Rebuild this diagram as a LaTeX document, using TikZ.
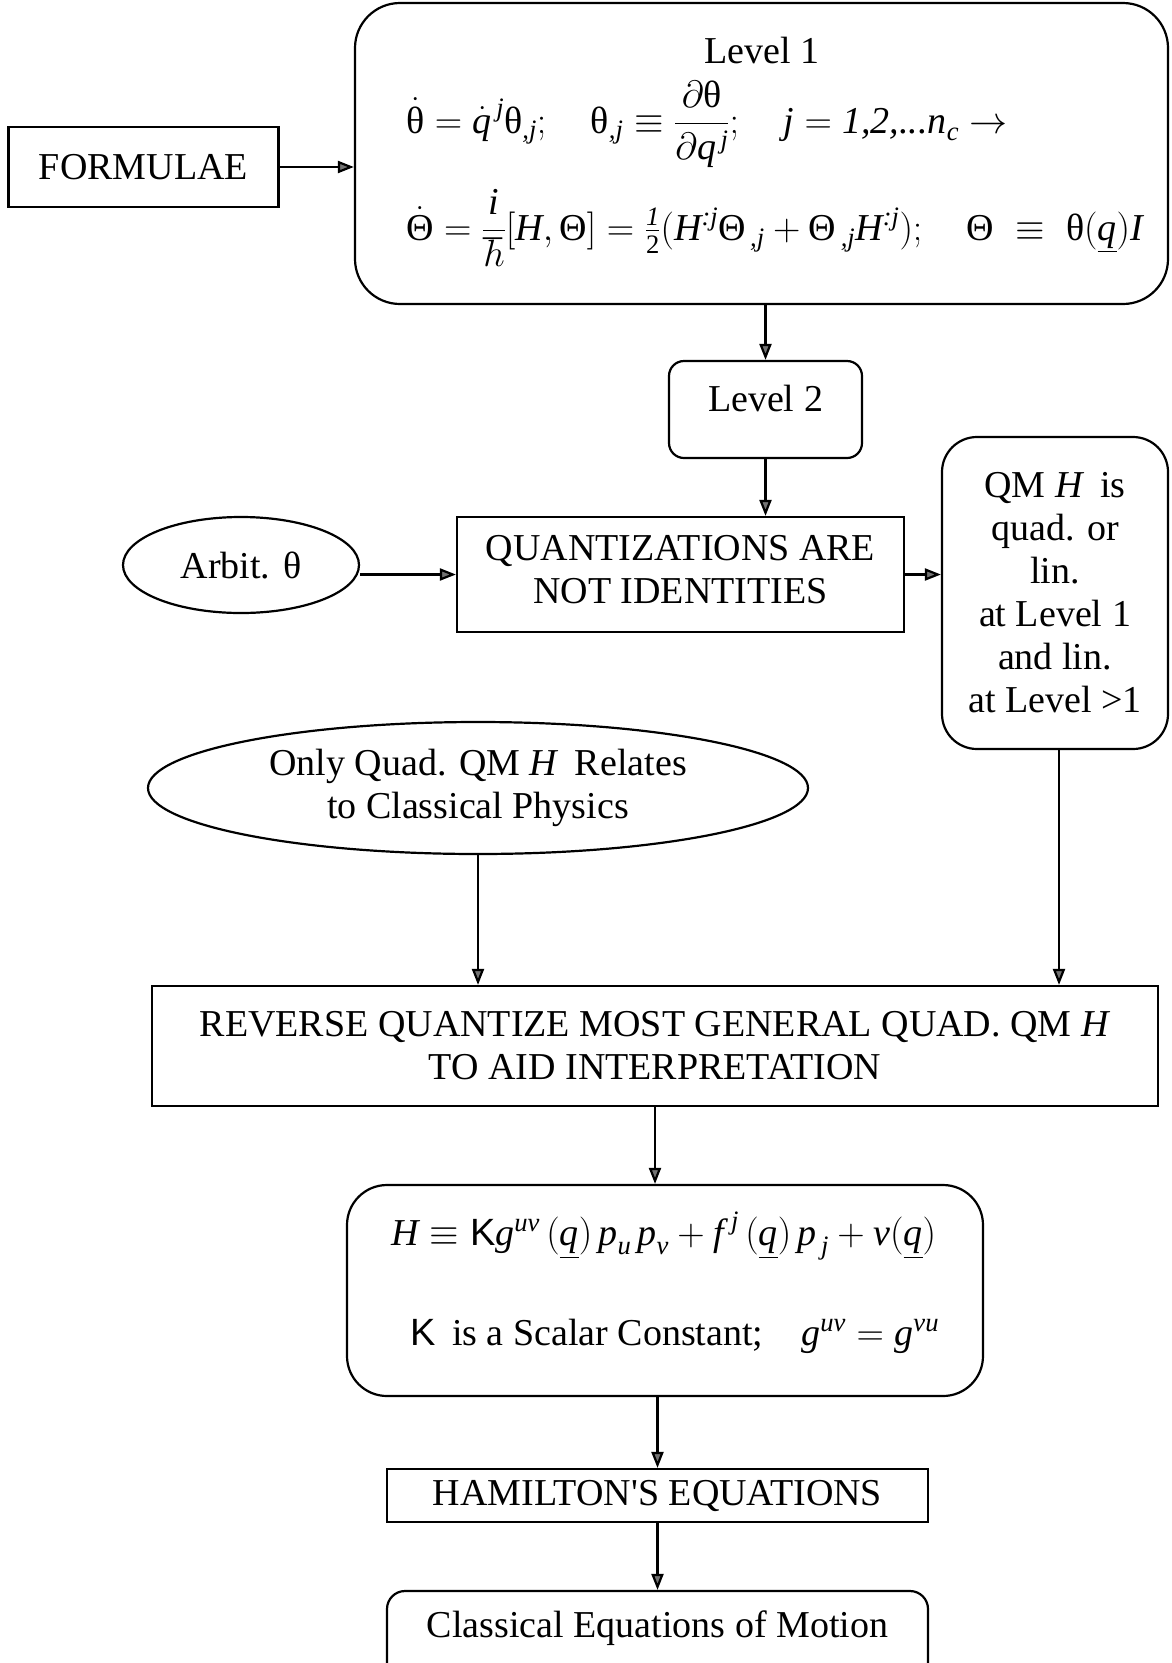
\RequirePackage{fix-cm}
\documentclass[tikz,border=0pt]{standalone}
\usepackage{amsmath}
\usepackage{fontspec}
\setmainfont{Liberation Serif}
\newfontfamily\rawserif[Ligatures=TeXOff]{Liberation Serif}
\newfontfamily\arialfont{Liberation Sans}
\usetikzlibrary{arrows.meta,shapes.geometric}

% italic and upright letters taken from the text font inside formulas
\newcommand\vi[1]{\text{\itshape #1}}
\newcommand\vu[1]{\text{\upshape #1}}
\newcommand\apos{{\rawserif'}}

\tikzset{
  every node/.style={font=\fontsize{38}{43}\selectfont, align=center, inner sep=0pt},
  box/.style={draw, line width=2.2pt},
  rbox/.style={box, rounded corners=#1},
  oval/.style={box, ellipse},
  arr/.style={line width=2.2pt, -{Triangle[length=16pt,width=12pt,fill=black!55]}},
}

\begin{document}
\begin{tikzpicture}[x=1pt,y=-1pt]
\clip (0,0) rectangle (1171,1663);
\fill[white] (0,0) rectangle (1171,1663);

% top row
\node[box, minimum width=270pt, minimum height=80pt] (formulae) at (143.5,167) {FORMULAE};
\node[rbox=45pt, minimum width=813pt, minimum height=301pt] (level1) at (761.5,153.5) {};
\node (l1title) at (762,50) {Level 1};
\node[anchor=west] (l1eqa) at (406,124)
  {$\dot{\vu{θ}} = \dot{\vi{q}}^{\,\vi{j}}\vu{θ}_{\vi{,j}};\quad
    \vu{θ}_{\vi{,j}} \equiv \dfrac{\partial\vu{θ}}{\partial \vi{q}^{\,\vi{j}}};\quad
    \vi{j} = \vi{1,2,...n}_{\vi{c}} \rightarrow$};
\node[anchor=west] (l1eqb) at (406,228)
  {$\dot{\vu{Θ}} = \dfrac{\vi{i}}{\hbar}[\vi{H},\vu{Θ}]
    = \tfrac{\vi{1}}{\vu{2}}(\vi{H}^{\vi{:j}}\vu{Θ}_{\vi{\,,j}} + \vu{Θ}_{\vi{\,,j}}\vi{H}^{\vi{:j}});\quad
    \vu{Θ}\;\equiv\;\vu{θ}(\underline{\vi{q}})\vi{I}$};

% second level
\node[rbox=15pt, minimum width=193pt, minimum height=97pt] (level2) at (765.5,409.5) {};
\node (l2title) at (765.5,398) {Level 2};

% quantization row
\node[box, minimum width=447pt, minimum height=115pt] (quant) at (680.5,574.5) {};
\node (quanttxt) at (680.5,570) {QUANTIZATIONS ARE\\NOT IDENTITIES};
\node[oval, minimum width=236pt, minimum height=96pt] (arbit) at (241,565) {Arbit. θ};
\node[rbox=35pt, minimum width=226pt, minimum height=312pt] (qm) at (1055,593)
  {QM \textit{H}\, is\\quad. or\\lin.\\at Level 1\\and lin.\\at Level >1};

% classical link
\node[oval, minimum width=660pt, minimum height=132pt] (only) at (478,788)
  {Only Quad. QM \textit{H}\, Relates\\to Classical Physics};
\node[box, minimum width=1006pt, minimum height=120pt] (reverse) at (655,1046)
  {REVERSE QUANTIZE MOST GENERAL QUAD. QM \textit{H}\\TO AID INTERPRETATION};

% Hamiltonian
\node[rbox=40pt, minimum width=636pt, minimum height=211pt] (hbox) at (665,1290.5) {};
\node (heqa) at (664,1236)
  {$\vi{H} \equiv \text{\arialfont K}\vi{g}^{\vi{uv}}\,(\underline{\vi{q}})\,\vi{p}_{\vi{u}}\,\vi{p}_{\vi{v}}
    + \vi{f}^{\;\vi{j}}\,(\underline{\vi{q}})\,\vi{p}_{\,\vi{j}} + \vi{v}(\underline{\vi{q}})$};
\node (heqb) at (675,1336)
  {{\arialfont K}\, is a Scalar Constant;\quad $\vi{g}^{\vi{uv}} = \vi{g}^{\vi{vu}}$};

\node[box, minimum width=541pt, minimum height=53pt] (ham) at (657.5,1495.5) {HAMILTON\apos S EQUATIONS};
\node[rbox=18pt, minimum width=541pt, minimum height=90pt] (classical) at (657.5,1636) {};
\node (classtxt) at (657.5,1628) {Classical Equations of Motion};

% connectors
\draw[arr] (formulae.east) -- (formulae.east -| level1.west);
\draw[arr] (level2.north |- level1.south) -- (level2.north);
\draw[arr] (level2.south) -- (level2.south |- quant.north);
\draw[arr] (arbit.east |- quant.west) -- (quant.west);
\draw[arr] (quant.east) -- (quant.east -| qm.west);
\draw[arr] ([xshift=4pt]qm.south) -- ([xshift=4pt]qm.south |- reverse.north);
\draw[arr] (only.south) -- (only.south |- reverse.north);
\draw[arr] (reverse.south) -- (reverse.south |- hbox.north);
\draw[arr] (ham.north |- hbox.south) -- (ham.north);
\draw[arr] (ham.south) -- (classical.north);
\end{tikzpicture}
\end{document}
